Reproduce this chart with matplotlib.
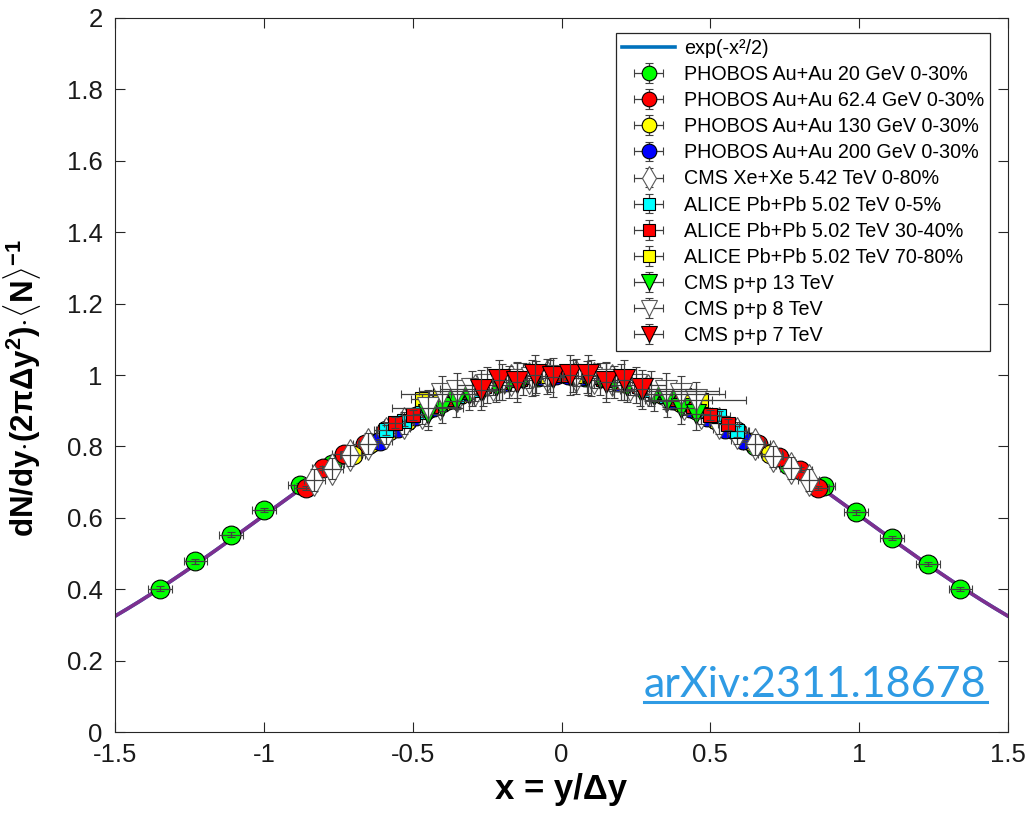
import numpy as np
import matplotlib
matplotlib.use("Agg")
import matplotlib.pyplot as plt
from matplotlib.lines import Line2D
from matplotlib.ticker import FormatStrFormatter
from matplotlib.container import ErrorbarContainer
from matplotlib.legend_handler import HandlerErrorbar

plt.rcParams['font.family'] = ['Liberation Sans', 'DejaVu Sans']
plt.rcParams['mathtext.fontset'] = 'custom'
plt.rcParams['mathtext.rm'] = 'Liberation Sans:bold'
plt.rcParams['mathtext.it'] = 'Liberation Sans:bold'
plt.rcParams['mathtext.bf'] = 'Liberation Sans:bold'

# reference curve
x_curve = np.linspace(-1.5, 1.5, 301)

# PHOBOS Au+Au 20 GeV 0-30%
x_ph20 = [-1.35, -1.23, -1.11, -1.00, -0.88, -0.77, -0.65, -0.54, -0.42, -0.31, -0.19, -0.08,
          0.08, 0.19, 0.31, 0.42, 0.54, 0.65, 0.76, 0.88, 0.99, 1.11, 1.23, 1.34]
y_ph20 = [0.402, 0.478, 0.553, 0.621, 0.692, 0.752, 0.805, 0.860, 0.915, 0.953, 0.982, 0.995,
          0.995, 0.983, 0.952, 0.913, 0.862, 0.800, 0.748, 0.690, 0.615, 0.543, 0.470, 0.401]

# PHOBOS Au+Au 62.4 GeV 0-30%
x_ph62 = [-0.86, -0.80, -0.73, -0.66, -0.59, -0.52, -0.45, -0.38, -0.31, -0.24, -0.17, -0.10, -0.03,
          0.03, 0.10, 0.17, 0.24, 0.31, 0.38, 0.45, 0.52, 0.59, 0.66, 0.73, 0.80, 0.86]
y_ph62 = [0.683, 0.740, 0.780, 0.808, 0.845, 0.872, 0.905, 0.930, 0.955, 0.972, 0.987, 0.995, 1.000,
          1.000, 0.996, 0.986, 0.973, 0.953, 0.931, 0.903, 0.874, 0.842, 0.806, 0.770, 0.735, 0.684]

# PHOBOS Au+Au 130 GeV 0-30%
x_ph130 = [-0.70, -0.64, -0.58, -0.52, -0.46, -0.40, -0.34, -0.28, -0.22, -0.16, -0.10, -0.04,
           0.04, 0.10, 0.16, 0.22, 0.28, 0.34, 0.40, 0.46, 0.52, 0.58, 0.64, 0.70]
y_ph130 = [0.775, 0.810, 0.843, 0.872, 0.898, 0.922, 0.944, 0.962, 0.976, 0.987, 0.995, 0.999,
           0.999, 0.995, 0.987, 0.976, 0.962, 0.943, 0.921, 0.899, 0.873, 0.845, 0.812, 0.778]

# PHOBOS Au+Au 200 GeV 0-30%
x_ph200 = [-0.61, -0.55, -0.49, -0.43, -0.37, -0.31, -0.25, -0.19, -0.13, -0.07, -0.02,
           0.02, 0.07, 0.13, 0.19, 0.25, 0.31, 0.37, 0.43, 0.49, 0.55, 0.61]
y_ph200 = [0.815, 0.852, 0.884, 0.910, 0.932, 0.952, 0.968, 0.981, 0.991, 0.997, 1.000,
           1.000, 0.997, 0.991, 0.981, 0.968, 0.951, 0.931, 0.909, 0.882, 0.850, 0.818]

# CMS Xe+Xe 5.42 TeV 0-80%
x_xe = [-0.83, -0.77, -0.71, -0.65, -0.59, -0.53, -0.47, -0.41, -0.35, -0.29, -0.23, -0.17, -0.11, -0.05,
        0.05, 0.11, 0.17, 0.23, 0.29, 0.35, 0.41, 0.47, 0.53, 0.59, 0.65, 0.71, 0.77, 0.83]
y_xe = [0.706, 0.738, 0.775, 0.808, 0.838, 0.866, 0.893, 0.918, 0.940, 0.958, 0.973, 0.985, 0.993, 0.998,
        0.998, 0.993, 0.985, 0.973, 0.958, 0.940, 0.918, 0.893, 0.866, 0.838, 0.806, 0.772, 0.740, 0.706]

# ALICE Pb+Pb 5.02 TeV 0-5%
x_al05 = [-0.59, -0.53, -0.47, -0.41, -0.35, -0.29, -0.23, -0.17, -0.11, -0.05,
          0.05, 0.11, 0.17, 0.23, 0.29, 0.35, 0.41, 0.47, 0.53, 0.59]
y_al05 = [0.846, 0.872, 0.897, 0.920, 0.941, 0.959, 0.974, 0.986, 0.994, 0.999,
          0.999, 0.994, 0.986, 0.974, 0.959, 0.941, 0.920, 0.898, 0.885, 0.842]

# ALICE Pb+Pb 5.02 TeV 30-40%
x_al30 = [-0.56, -0.50, -0.44, -0.38, -0.32, -0.26, -0.20, -0.14, -0.08, -0.02,
          0.02, 0.08, 0.14, 0.20, 0.26, 0.32, 0.38, 0.44, 0.50, 0.56]
y_al30 = [0.866, 0.888, 0.912, 0.933, 0.952, 0.968, 0.981, 0.990, 0.997, 1.000,
          1.000, 0.997, 0.990, 0.981, 0.968, 0.952, 0.933, 0.912, 0.888, 0.862]

# ALICE Pb+Pb 5.02 TeV 70-80%
x_al70 = [-0.47, -0.41, -0.35, -0.29, -0.23, -0.17, -0.11, -0.05,
          0.05, 0.11, 0.17, 0.23, 0.29, 0.35, 0.41, 0.47]
y_al70 = [0.932, 0.945, 0.958, 0.969, 0.979, 0.987, 0.994, 0.998,
          0.998, 0.994, 0.987, 0.979, 0.969, 0.958, 0.945, 0.930]

# CMS p+p 13 TeV
x_pp13 = [-0.45, -0.40, -0.355, -0.31, -0.265, -0.22, -0.175, -0.13, -0.085, -0.04,
          0.04, 0.085, 0.13, 0.175, 0.22, 0.265, 0.31, 0.355, 0.40, 0.45]
y_pp13 = [0.892, 0.910, 0.928, 0.946, 0.958, 0.970, 0.980, 0.988, 0.994, 0.998,
          0.998, 0.994, 0.988, 0.980, 0.970, 0.958, 0.945, 0.927, 0.908, 0.890]

# CMS p+p 8 TeV
x_pp8 = [-0.45, -0.40, -0.35, -0.30, -0.25, -0.20, -0.15, -0.10, -0.05,
         0.05, 0.10, 0.15, 0.20, 0.25, 0.30, 0.35, 0.40, 0.45]
y_pp8 = [0.908, 0.948, 0.956, 0.962, 0.972, 0.980, 0.986, 0.992, 0.996,
         0.996, 0.992, 0.986, 0.980, 0.972, 0.962, 0.955, 0.946, 0.930]

# CMS p+p 7 TeV
x_pp7 = [-0.27, -0.21, -0.15, -0.09, -0.03, 0.03, 0.09, 0.15, 0.21, 0.27]
y_pp7 = [0.958, 0.986, 0.980, 1.000, 0.994, 1.000, 1.000, 0.980, 0.986, 0.960]

# uncertainties (x, y) per data set
xerr_ph = 0.04
yerr_ph = 0.006
xerr_xe = 0.035
yerr_xe = 0.03
xerr_al = 0.035
yerr_al = 0.015
xerr_pp13 = [0.05, 0.05, 0.06, 0.06, 0.07, 0.07, 0.08, 0.08, 0.09, 0.09,
             0.09, 0.09, 0.08, 0.08, 0.07, 0.07, 0.06, 0.06, 0.05, 0.05]
yerr_pp13 = 0.045
xerr_pp8 = [0.12, 0.14, 0.13, 0.11, 0.10, 0.09, 0.08, 0.08, 0.07,
            0.07, 0.08, 0.08, 0.09, 0.10, 0.15, 0.18, 0.15, 0.17]
yerr_pp8 = 0.05
xerr_pp7 = 0.025
yerr_pp7 = 0.055

labels = ['PHOBOS Au+Au 20 GeV 0-30%', 'PHOBOS Au+Au 62.4 GeV 0-30%',
          'PHOBOS Au+Au 130 GeV 0-30%', 'PHOBOS Au+Au 200 GeV 0-30%',
          'CMS Xe+Xe 5.42 TeV 0-80%', 'ALICE Pb+Pb 5.02 TeV 0-5%',
          'ALICE Pb+Pb 5.02 TeV 30-40%', 'ALICE Pb+Pb 5.02 TeV 70-80%',
          'CMS p+p 13 TeV', 'CMS p+p 8 TeV', 'CMS p+p 7 TeV']

fig = plt.figure(figsize=(10.3, 8.18), dpi=100)
ax = fig.add_axes([0.1117, 0.1051, 0.8670, 0.8729])

ax.plot(x_curve, np.exp(-x_curve**2 / 2), color='#0072BD', lw=2.6, label='exp(-x²/2)', zorder=1)
ax.plot(x_curve, np.exp(-x_curve**2 / 2), color='#7E2F8E', lw=2.6, zorder=1.1)

series = [
    (x_ph20, y_ph20, xerr_ph, yerr_ph, 'o', '#00FF00', 13.5),
    (x_ph62, y_ph62, xerr_ph, yerr_ph, 'o', '#FF0000', 13.5),
    (x_ph130, y_ph130, xerr_ph, yerr_ph, 'o', '#FFFF00', 13.5),
    (x_ph200, y_ph200, xerr_ph, yerr_ph, 'o', '#0000FF', 13.5),
    (x_xe, y_xe, xerr_xe, yerr_xe, 'd', 'white', 16),
    (x_al05, y_al05, xerr_al, yerr_al, 's', '#00FFFF', 10.5),
    (x_al30, y_al30, xerr_al, yerr_al, 's', '#FF0000', 10.5),
    (x_al70, y_al70, xerr_al, yerr_al, 's', '#FFFF00', 10.5),
    (x_pp13, y_pp13, xerr_pp13, yerr_pp13, 'v', '#00FF00', 14),
    (x_pp8, y_pp8, xerr_pp8, yerr_pp8, 'v', 'white', 15.5),
    (x_pp7, y_pp7, xerr_pp7, yerr_pp7, 'v', '#FF0000', 15.5),
]

for i, (xs, ys, xe, ye, mk, fc, ms) in enumerate(series):
    ec = '0.35' if fc == 'white' else 'black'
    ax.errorbar(xs, ys, yerr=ye, xerr=xe, fmt=mk, ms=ms, mfc=fc, mec=ec, mew=0.8,
                ecolor='0.25', elinewidth=0.9, capsize=3, capthick=0.9,
                barsabove=True, label=labels[i], zorder=2 + i * 0.3)

ax.set_xlim(-1.5, 1.5)
ax.set_ylim(0, 2)
ax.set_xticks(np.arange(-1.5, 1.51, 0.5))
ax.set_yticks(np.arange(0, 2.01, 0.2))
ax.xaxis.set_major_formatter(FormatStrFormatter('%g'))
ax.yaxis.set_major_formatter(FormatStrFormatter('%g'))
ax.tick_params(direction='in', length=7, width=0.8, labelsize=18.5, colors='0.15',
               top=True, right=True)
ax.tick_params(axis='x', pad=8)
ax.tick_params(axis='y', pad=9)
ax.tick_params(labelcolor='0.1')
for sp in ax.spines.values():
    sp.set_color('0.15')
    sp.set_linewidth(0.8)

ax.set_xlabel('x = y/Δy', fontsize=25, fontweight='bold', labelpad=4)
ax.set_ylabel(r'dN/dy$\cdot$(2πΔy$^2$)$\cdot\langle$N$\rangle^{-1}$', fontsize=22.5,
              fontweight='bold')
ax.yaxis.set_label_coords(-0.081, 0.482)

leg = ax.legend(loc='upper right', bbox_to_anchor=(0.98, 0.979), fontsize=14.2,
                fancybox=False, framealpha=1, edgecolor='0.15', labelspacing=0.36,
                handlelength=2.7, handletextpad=0.45, borderpad=0.3, borderaxespad=0,
                markerscale=0.78,
                handler_map={ErrorbarContainer: HandlerErrorbar(xerr_size=0.75, yerr_size=0.5)})
leg.get_frame().set_linewidth(0.9)

tag = ax.text(0.976, 0.049, 'arXiv:2311.18678', transform=ax.transAxes, ha='right',
              va='baseline', fontsize=31, color='#2F9BE4', family='Lato', zorder=10)

fig.canvas.draw()
bb = tag.get_window_extent()
base_y = ax.transAxes.transform((0.976, 0.049))[1]
uy = base_y - 5
fig.add_artist(Line2D([bb.x0 / fig.bbox.width, bb.x1 / fig.bbox.width],
                      [uy / fig.bbox.height, uy / fig.bbox.height],
                      transform=fig.transFigure, color='#2F9BE4', lw=2.2))

fig.savefig('out.png', dpi=100)
